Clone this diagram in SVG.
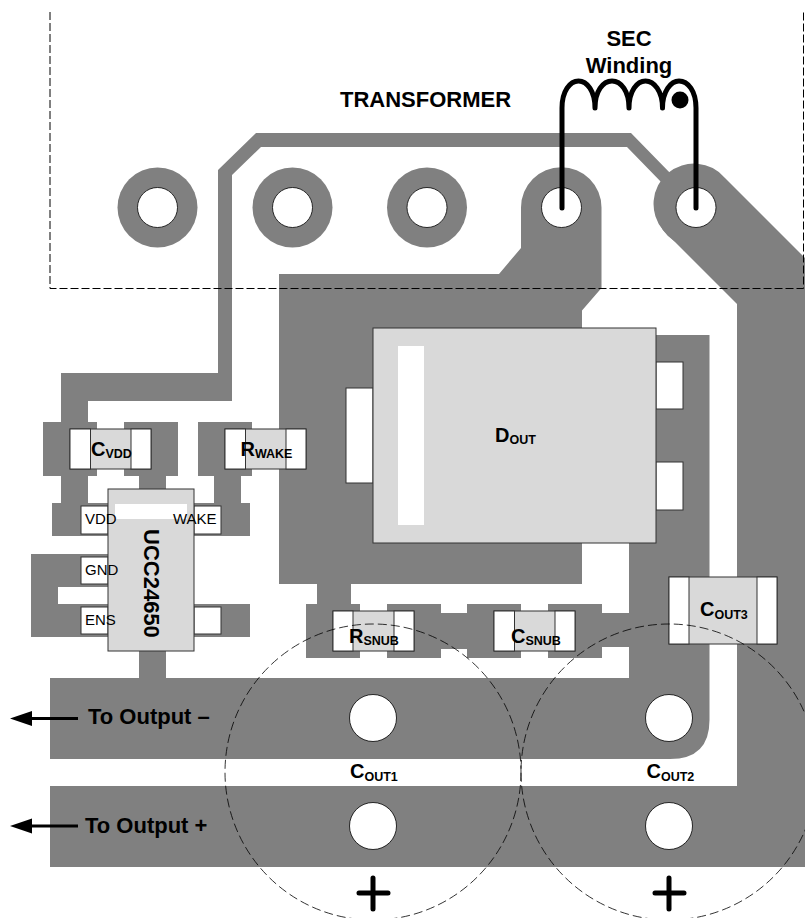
<svg xmlns="http://www.w3.org/2000/svg" width="805" height="918" viewBox="0 0 805 918">
<style>
text{font-family:"Liberation Sans",Arial,sans-serif;fill:#000}
.t{font-size:22px;font-weight:bold}
.l{font-size:20px;font-weight:bold}
.s{font-size:12.5px}
.p{font-size:15px}
.cu{fill:#808080}
.body{fill:#d9d9d9;stroke:#333;stroke-width:1}
.pin{fill:#fff;stroke:#333;stroke-width:1}
.hole{fill:#fff;stroke:#000;stroke-width:.8}
.dash{fill:none;stroke:#000;stroke-width:1;stroke-dasharray:8 3}
.ring{fill:none;stroke:#000;stroke-width:.8;stroke-dasharray:9 4}
.wire{fill:none;stroke:#000;stroke-width:5;stroke-linecap:round;stroke-linejoin:round}
</style>
<defs>
<marker id="ah" markerUnits="userSpaceOnUse" markerWidth="24" markerHeight="16" refX="0" refY="7.5" orient="auto"><path d="M0 0L22 7.5L0 15Z" fill="#000"/></marker>
</defs>
<g id="connectors">
<path class="cu" d="M218 170L256 133H631L672 175L663 184L627 147H261L232 175V401H88V422H61V373H218Z"/>
<path class="cu" d="M521 207.5A40 40 0 0 1 601.5 207.5V288L582 310.5V584H351V604H317V584H279V274H499L521 248Z"/>
<path class="cu" d="M725 178L805 258V786H737V304L663 230A40 40 0 1 1 725 178Z"/>
<circle class="cu" cx="696" cy="207.500" r="40"/>
<path class="cu" d="M629 543V678H50V759H670Q709.500 759 709.500 720V335H656V543Z"/>
<rect class="cu" x="50" y="786" width="755" height="81"/>
<rect class="cu" x="61" y="476" width="27" height="27"/>
<rect class="cu" x="139" y="476" width="27" height="14"/>
<rect class="cu" x="214" y="476" width="27" height="27"/>
<rect class="cu" x="139" y="651" width="27" height="27"/>
<path class="cu" d="M31 554H108V587H58V604H108V637H31Z"/>
<rect class="cu" x="52" y="503" width="56" height="33"/>
<rect class="cu" x="194" y="503" width="56" height="33"/>
<rect class="cu" x="194" y="604" width="56" height="33"/>
<rect class="cu" x="441" y="613" width="26" height="36"/>
<rect class="cu" x="602" y="613" width="27" height="34"/>
<rect class="cu" x="43" y="422" width="54" height="54"/>
<rect class="cu" x="124" y="422" width="54" height="54"/>
<rect class="cu" x="198" y="422" width="54" height="54"/>
<rect class="cu" x="306" y="604" width="54" height="54"/>
<rect class="cu" x="387" y="604" width="54" height="54"/>
<rect class="cu" x="467" y="604" width="54" height="54"/>
<rect class="cu" x="548" y="604" width="54" height="54"/>
<path d="M78 718.500H32" fill="none" stroke="#000" stroke-width="3" marker-end="url(#ah)" transform="translate(0 0)"/>
<path d="M78 826H32" fill="none" stroke="#000" stroke-width="3" marker-end="url(#ah)"/>
</g>
<g id="pad1"><circle class="cu" cx="157.500" cy="207.500" r="40"/><circle class="hole" cx="157.500" cy="207.500" r="20"/></g>
<g id="pad2"><circle class="cu" cx="292.500" cy="207.500" r="40"/><circle class="hole" cx="292.500" cy="207.500" r="20"/></g>
<g id="pad3"><circle class="cu" cx="427" cy="207.500" r="40"/><circle class="hole" cx="427" cy="207.500" r="20"/></g>
<g id="pad4"><circle class="hole" cx="561.500" cy="207.500" r="20"/></g>
<g id="pad5"><circle class="hole" cx="696" cy="207.500" r="20"/></g>
<g id="transformer">
<path class="dash" d="M50 12V288.500H803.500V12"/>
<text class="t" x="340" y="107">TRANSFORMER</text>
</g>
<g id="sec-winding">
<path class="wire" d="M562 208V108C562 91 570 81 578.500 81C587 81 595 91 595 108C595 91 603 81 612 81C621 81 629 91 629 108C629 91 637 81 645.500 81C654 81 662.500 91 662.500 108C662.500 91 671 81 679 81C688 81 696 91 696 108V208"/>
<circle cx="680" cy="100" r="8.500" fill="#000"/>
<text class="t" x="629" y="45.500" text-anchor="middle">SEC</text>
<text class="t" x="629" y="73" text-anchor="middle">Winding</text>
</g>
<g id="dout">
<rect class="pin" x="346" y="388" width="27" height="95"/>
<rect class="pin" x="656" y="362" width="27" height="47"/>
<rect class="pin" x="656" y="462" width="27" height="48"/>
<rect class="body" x="373" y="328" width="283" height="215"/>
<rect x="398" y="346" width="26" height="179" fill="#fff"/>
<text class="l" x="495" y="442">D<tspan class="s" dy="2">OUT</tspan></text>
</g>
<g id="ucc24650">
<rect class="pin" x="81" y="506" width="27" height="28"/>
<rect class="pin" x="81" y="557" width="27" height="27"/>
<rect class="pin" x="81" y="607" width="27" height="27"/>
<rect class="pin" x="194" y="506" width="27" height="28"/>
<rect class="pin" x="194" y="607" width="27" height="27"/>
<rect class="body" x="108" y="489" width="86" height="162"/>
<rect x="115" y="504" width="72" height="15" fill="#fff"/>
<text class="p" x="85" y="524">VDD</text>
<text class="p" x="173" y="524">WAKE</text>
<text class="p" x="85" y="575">GND</text>
<text class="p" x="85" y="625">ENS</text>
<text class="t" transform="translate(144 529) rotate(90)">UCC24650</text>
</g>
<g id="cvdd">
<rect class="body" x="70" y="429" width="81" height="40"/>
<rect class="pin" x="70" y="429" width="20.500" height="40"/>
<rect class="pin" x="131" y="429" width="20" height="40"/>
<text class="l" x="91" y="456">C<tspan class="s" dy="2">VDD</tspan></text>
</g>
<g id="rwake">
<rect class="body" x="225" y="429" width="81" height="40"/>
<rect class="pin" x="225" y="429" width="20.500" height="40"/>
<rect class="pin" x="286" y="429" width="20" height="40"/>
<text class="l" x="240.500" y="456">R<tspan class="s" dy="2">WAKE</tspan></text>
</g>
<g id="rsnub">
<rect class="body" x="333" y="611" width="81" height="40"/>
<rect class="pin" x="333" y="611" width="20" height="40"/>
<rect class="pin" x="394" y="611" width="20" height="40"/>
<text class="l" x="349" y="643">R<tspan class="s" dy="2">SNUB</tspan></text>
</g>
<g id="csnub">
<rect class="body" x="494" y="611" width="81" height="40"/>
<rect class="pin" x="494" y="611" width="20.500" height="40"/>
<rect class="pin" x="555" y="611" width="20" height="40"/>
<text class="l" x="511" y="643">C<tspan class="s" dy="2">SNUB</tspan></text>
</g>
<g id="cout3">
<rect class="body" x="669" y="577" width="108" height="67"/>
<rect class="pin" x="669" y="577" width="20" height="67"/>
<rect class="pin" x="757" y="577" width="20" height="67"/>
<text class="l" x="700" y="616">C<tspan class="s" dy="3">OUT3</tspan></text>
</g>
<g id="cout1">
<circle class="hole" cx="373" cy="718" r="23.500"/>
<circle class="hole" cx="373" cy="826" r="23.500"/>
<circle class="ring" cx="373" cy="772" r="148"/>
<text class="l" x="350" y="778">C<tspan class="s" dy="3">OUT1</tspan></text>
<path class="wire" d="M359 893H388M373 878V909"/>
</g>
<g id="cout2">
<circle class="hole" cx="669" cy="718" r="23.500"/>
<circle class="hole" cx="669" cy="826" r="23.500"/>
<circle class="ring" cx="669" cy="772" r="148"/>
<text class="l" x="646.500" y="778">C<tspan class="s" dy="3">OUT2</tspan></text>
<path class="wire" d="M655 893H684M669 878V909"/>
</g>
<g id="output-labels">
<text class="t" x="88" y="724">To Output –</text>
<text class="t" x="85" y="832.500">To Output +</text>
</g>
</svg>
